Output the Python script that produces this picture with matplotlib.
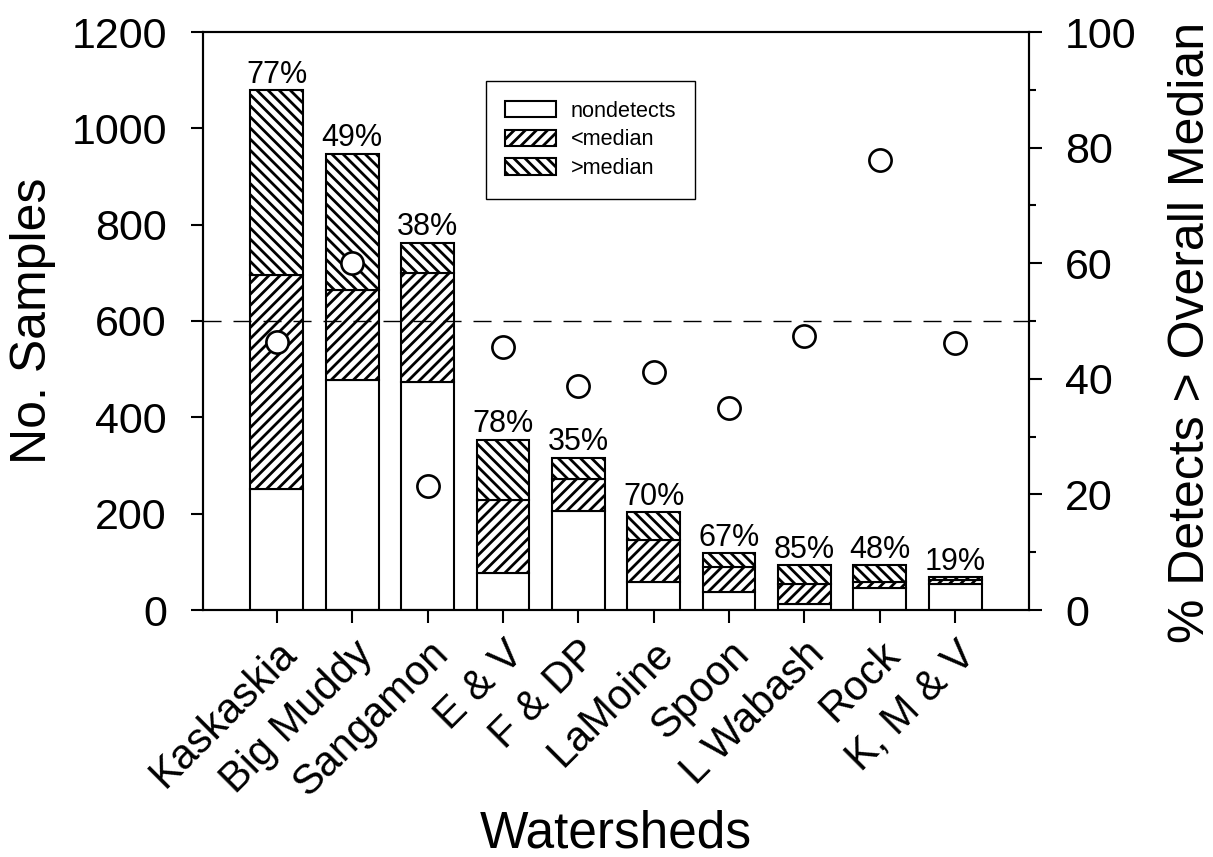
import matplotlib
matplotlib.use('Agg')
import matplotlib.pyplot as plt
import numpy as np

plt.rcParams['font.family'] = ['Liberation Sans', 'DejaVu Sans']
plt.rcParams['hatch.linewidth'] = 2.0

# データ
names = ["Kaskaskia", "Big Muddy", "Sangamon", "E & V", "F & DP",
         "LaMoine", "Spoon", "L Wabash", "Rock", "K, M & V"]
nondetects = [251, 477, 473, 77, 205, 59, 37, 13, 46, 55]
below_median = [444, 187, 227, 151, 67, 86, 53, 41, 12, 7]
above_median = [384, 283, 62, 125, 44, 58, 28, 39, 35, 6]
detect_labels = ["77%", "49%", "38%", "78%", "35%", "70%", "67%", "85%", "48%", "19%"]
pct_above = [46.4, 60.0, 21.5, 45.5, 38.8, 41.2, 34.9, 47.4, 77.9, 46.2]

W, H = 1213, 857
fig = plt.figure(figsize=(W / 100, H / 100), dpi=100)
ax = fig.add_axes([203 / W, (H - 610) / H, 826 / W, 578 / H])

x = np.arange(len(names))
nd = np.array(nondetects)
bm = np.array(below_median)
am = np.array(above_median)
bw = 0.7
ax.bar(x, nd, bw, color='white', edgecolor='black', lw=1.5, label='nondetects')
ax.bar(x, bm, bw, bottom=nd, color='white', edgecolor='black', lw=1.5,
       hatch='///', label='<median')
ax.bar(x, am, bw, bottom=nd + bm, color='white', edgecolor='black', lw=1.5,
       hatch='\\\\\\', label='>median')

tops = nd + bm + am
for xi, t, lab in zip(x, tops, detect_labels):
    ax.annotate(lab, (xi, t), xytext=(0, 5.5), textcoords='offset points',
                ha='center', va='baseline', fontsize=22)

ax.set_xlim(-0.98, 9.98)
ax.set_ylim(0, 1200)
ax.set_yticks(np.arange(0, 1201, 200))
ax.set_xticks(x)
ax.set_xticklabels(names, rotation=45, ha='right', va='top',
                   rotation_mode='anchor', fontsize=30)
ax.tick_params(axis='y', direction='out', length=9, width=1.5, labelsize=31, pad=17)
ax.tick_params(axis='x', direction='out', length=9, width=1.5, pad=8)

ax.set_ylabel("No. Samples", fontsize=36)
ax.yaxis.set_label_coords(-0.178, 0.5)
ax.set_xlabel("Watersheds", fontsize=37, va='baseline')
ax.xaxis.set_label_coords(0.5, -(847 - 610) / 578)

for s in ax.spines.values():
    s.set_linewidth(1.5)

leg = ax.legend(loc='upper left', bbox_to_anchor=(0.3426, 0.9152), borderaxespad=0,
                frameon=True, fancybox=False, edgecolor='black', framealpha=1,
                fontsize=15.6, handlelength=2.35, handleheight=0.78,
                handletextpad=0.65, borderpad=0.9, labelspacing=0.36)
leg.get_frame().set_linewidth(1.0)

ax2 = ax.twinx()
ax2.set_ylim(0, 100)
ax2.set_yticks(np.arange(0, 101, 20))
ax2.set_yticks(np.arange(10, 100, 20), minor=True)
ax2.tick_params(axis='y', which='major', direction='out', length=9, width=1.5,
                labelsize=31, pad=17)
ax2.tick_params(axis='y', which='minor', direction='out', length=5, width=1.5)
ax2.axhline(50, color='black', lw=1, dashes=(13, 8.6))
ax2.plot(x, pct_above, 'o', mfc='white', mec='black', ms=16, mew=1.9, zorder=3)
ax2.set_ylabel("% Detects > Overall Median", fontsize=36, rotation=90)
ax2.yaxis.set_label_coords(1.168, 0.48)
for s in ax2.spines.values():
    s.set_linewidth(1.5)

fig.savefig('out.png', dpi=100)
